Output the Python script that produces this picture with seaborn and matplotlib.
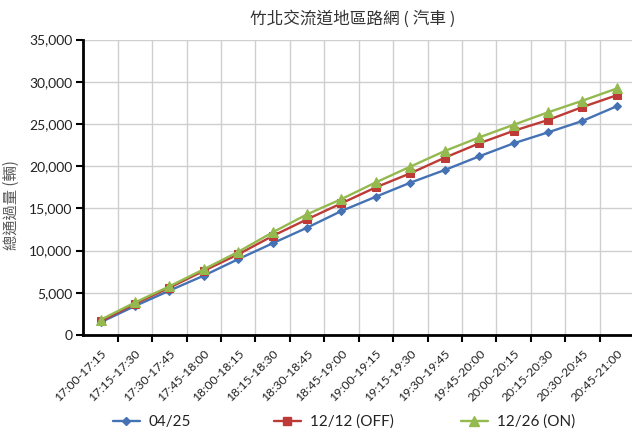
import matplotlib
matplotlib.use("Agg")
import matplotlib.pyplot as plt
from matplotlib.lines import Line2D
from matplotlib.ticker import FuncFormatter, FixedLocator
import seaborn as sns

# 15-minute time slots, 17:00 - 21:00
time_slots = [
    "17:00-17:15", "17:15-17:30", "17:30-17:45", "17:45-18:00",
    "18:00-18:15", "18:15-18:30", "18:30-18:45", "18:45-19:00",
    "19:00-19:15", "19:15-19:30", "19:30-19:45", "19:45-20:00",
    "20:00-20:15", "20:15-20:30", "20:30-20:45", "20:45-21:00",
]

# cumulative vehicle counts per survey day
series_names = ["04/25", "12/12 (OFF)", "12/26 (ON)"]
vol_0425 = [1500, 3430, 5250, 7030, 8980, 10860, 12710, 14690,
            16380, 18040, 19540, 21160, 22700, 24000, 25350, 27100]
vol_1212 = [1620, 3700, 5600, 7600, 9550, 11730, 13700, 15600,
            17490, 19150, 21000, 22700, 24180, 25460, 27000, 28400]
vol_1226 = [1800, 3850, 5760, 7780, 9850, 12160, 14290, 16100,
            18080, 19940, 21790, 23400, 24900, 26370, 27750, 29200]

colors = ["#4472B4", "#BE3A36", "#94BA4F"]
markers = ["D", "s", "^"]
marker_sizes = [4.5, 5.5, 6.5]

sns.set_style("white")
plt.rcParams["font.family"] = ["Lato", "Noto Sans CJK TC", "DejaVu Sans"]

fig = plt.figure(figsize=(6.32, 4.37), dpi=100)
ax = fig.add_axes([0.1318, 0.2334, 0.8714, 0.6762])

positions = list(range(len(time_slots)))
for name, vals, c, m, ms in zip(series_names, [vol_0425, vol_1212, vol_1226],
                                colors, markers, marker_sizes):
    sns.lineplot(x=positions, y=vals, ax=ax, color=c, marker=m, markersize=ms,
                 markeredgecolor=c, linewidth=1.7, sort=False, legend=False)

ax.set_xlim(-0.5, len(time_slots) - 0.5)
ax.set_ylim(0, 35000)
ax.set_yticks(range(0, 35001, 5000))
ax.yaxis.set_major_formatter(FuncFormatter(lambda v, p: f"{int(v):,}"))

# category labels at centres, ticks and grid at category boundaries
ax.set_xticks(positions)
ax.set_xticklabels(time_slots, rotation=45, ha="right", rotation_mode="anchor",
                   fontsize=8.8, color="#222222")
ax.xaxis.set_minor_locator(FixedLocator([p + 0.5 for p in positions]))
ax.tick_params(axis="x", which="major", length=0, pad=9)
ax.tick_params(axis="x", which="minor", length=5, width=1.5, color="black",
               direction="out", bottom=True)
ax.tick_params(axis="y", which="major", length=5, width=1.5, color="black",
               direction="out", left=True, labelsize=10, labelcolor="#222222",
               pad=3)

ax.grid(False)
ax.yaxis.grid(True, which="major", color="#CFCFCF", linewidth=1.0)
ax.xaxis.grid(True, which="minor", color="#CFCFCF", linewidth=1.0)
ax.set_axisbelow(True)

for side in ["top", "right"]:
    ax.spines[side].set_visible(False)
for side in ["left", "bottom"]:
    ax.spines[side].set_color("black")
    ax.spines[side].set_linewidth(2.0)

ax.set_xlabel("")
ax.set_ylabel("總通過量 (輛)", fontsize=11, color="#5A5A5A",
              family=["Noto Sans CJK TC", "DejaVu Sans"])
ax.yaxis.set_label_coords(-0.115, 0.44)

fig.text(0.558, 1 - 19 / 437, "竹北交流道地區路網 ( 汽車 )", ha="center",
         va="center", fontsize=12, color="#333333",
         family=["Noto Sans CJK TC", "DejaVu Sans"])

# legend entries laid out along the bottom
legend_x = [113 / 632, 274 / 632, 461 / 632]
legend_y = 1 - 422 / 437
for name, c, m, ms, lx in zip(series_names, colors, markers, marker_sizes, legend_x):
    h = Line2D([], [], color=c, marker=m, markersize=ms, markeredgecolor=c,
               linewidth=1.7)
    fig.legend(handles=[h], labels=[name], loc="center left",
               bbox_to_anchor=(lx, legend_y), frameon=False, borderpad=0,
               borderaxespad=0, handlelength=1.75, handletextpad=0.6,
               fontsize=11, labelcolor="#222222")

fig.savefig("out.png", dpi=100)
